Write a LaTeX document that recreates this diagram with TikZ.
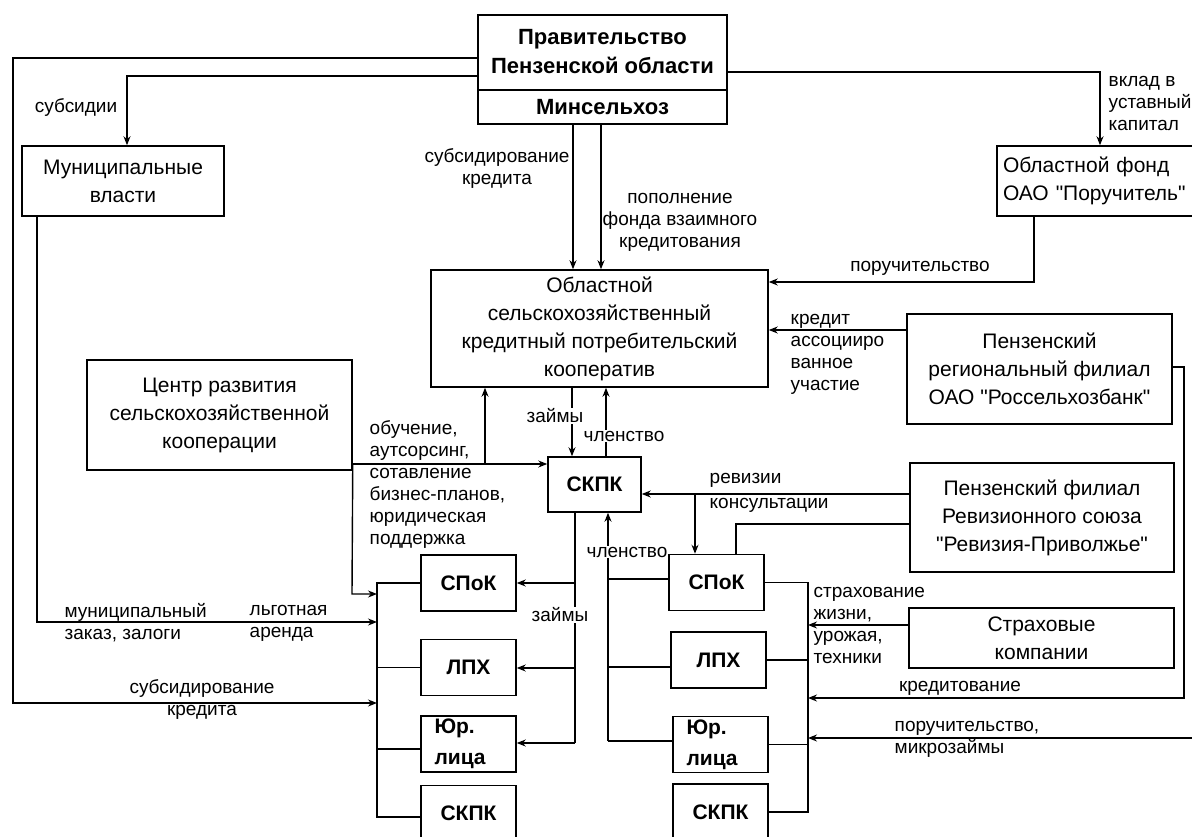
\documentclass[tikz,border=0pt]{standalone}
\usepackage{fontspec}
\setmainfont{Liberation Sans}[Ligatures=TeXOff]
\usetikzlibrary{positioning,arrows.meta}

\begin{document}
\begin{tikzpicture}[x=1pt, y=-1pt, line width=1.4pt,
	box/.style = {draw, line width=1.5pt, align=center, inner sep=0pt, font=\fontsize{21}{28}\selectfont},
	unit/.style = {draw, line width=1.5pt, minimum width=95pt, minimum height=56pt, inner sep=0pt, font=\bfseries\fontsize{21}{31}\selectfont},
	lbl/.style = {font=\fontsize{19}{22}\selectfont, inner sep=1pt},
	arr/.style = {-{Stealth[length=9pt,width=7pt]}}]
	\useasboundingbox (0,0) rectangle (1192,837);
	\clip (0,0) rectangle (1192,837);
	\node[box, minimum width=249pt, minimum height=109pt] (gov) at (602.5,69.5) {};
	\node[font=\bfseries\fontsize{22}{29}\selectfont, align=center] (govname) at (602.5,52) {Правительство\\Пензенской области};
	\node[font=\bfseries\fontsize{22}{29}\selectfont] (minsel) at (602.5,107) {Минсельхоз};
	\draw (gov.west |- 0,90) -- (gov.east |- 0,90);
	\node[box, minimum width=202pt, minimum height=70pt] (mun) at (123,181) {Муниципальные\\власти};
	\node[box, text width=185pt, inner xsep=6pt, minimum height=70pt, align=left] (fund) at (1095.5,181) {Областной фонд\\ОАО "Поручитель"};
	\node[box, minimum width=337pt, minimum height=117pt] (kpk) at (599.5,328.5) {Областной\\сельскохозяйственный\\кредитный потребительский\\кооператив};
	\node[box, minimum width=265pt, minimum height=110pt] (centre) at (219.5,415) {Центр развития\\сельскохозяйственной\\кооперации};
	\node[box, minimum width=265pt, minimum height=110pt] (bank) at (1039.5,369) {Пензенский\\региональный филиал\\ОАО "Россельхозбанк"};
	\node[box, minimum width=264pt, minimum height=109pt] (rev) at (1042,517.5) {Пензенский филиал\\Ревизионного союза\\"Ревизия-Приволжье"};
	\node[box, minimum width=265pt, minimum height=60pt] (insur) at (1041.5,638) {Страховые\\компании};
	\node[unit, minimum width=93pt, minimum height=55pt] (skpk) at (594.5,484.5) {СКПК};
	\node[unit] (lspok) at (468.5,583) {СПоК};
	\node[unit] (llph) [below=27pt of lspok] {ЛПХ};
	\node[unit, text width=68pt, align=left] (lyur) [below=19pt of llph] {Юр.\\лица};
	\node[unit] (lskpk) [below=12pt of lyur] {СКПК};
	\node[unit] (rspok) at (716.5,582.5) {СПоК};
	\node[unit] (rlph) [below=20pt of rspok, xshift=2pt] {ЛПХ};
	\node[unit, text width=68pt, align=left] (ryur) [below=27pt of rlph, xshift=2pt] {Юр.\\лица};
	\node[unit] (rskpk) [below=10pt of ryur] {СКПК};
	\coordinate (lbus) at (377,581);
	\coordinate (rbus) at (808,582);
	\coordinate (obr) at (485,464);
	\coordinate (revbr) at (695,494);
	\coordinate (gedge) at (1192,738);
	\draw[arr] (gov.west |- 0,58) -| (13,703) -- (lbus |- 0,703);
	\draw[arr] (gov.west |- 0,76) -| (mun.north -| 127,0);
	\draw[arr] (gov.east |- 0,72) -| (fund.north -| 1100,0);
	\draw[arr] (gov.south -| 573,0) -- (kpk.north -| 573,0);
	\draw[arr] (gov.south -| 601,0) -- (kpk.north -| 601,0);
	\draw[arr] (fund.south -| 1034,0) |- (kpk.east |- 0,282);
	\draw[arr] (bank.west |- 0,330) -- (kpk.east |- 0,330);
	\draw[arr] (bank.east |- 0,367) -| (1184,698) -- (rbus |- 0,698);
	\draw[arr] (kpk.south -| 572,0) -- (skpk.north -| 572,0);
	\draw[arr] (skpk.north -| 606,0) -- (kpk.south -| 606,0);
	\draw[arr] (centre.east |- obr) -- (skpk.west |- obr);
	\draw[arr] (obr) -- (kpk.south -| obr);
	\draw[arr] (centre.east |- obr) -- (352,594) -- (lbus |- 0,594);
	\draw[arr] (mun.south -| 37,0) -- (37,622) -- (lbus |- 0,622);
	\draw[arr] (rev.west |- revbr) -- (skpk.east |- revbr);
	\draw[arr] (revbr) -- (rspok.north -| revbr);
	\draw (rev.west |- 0,524) -| (rspok.north -| 736,0);
	\draw (lspok.west) -- (lspok.west -| lbus) -- (lbus |- 0,817) -- (lskpk.west |- 0,817);
	\draw (llph.west) -- (llph.west -| lbus);
	\draw (lyur.west |- 0,749) -- (lbus |- 0,749);
	\draw (skpk.south -| 575,0) -- (575,743);
	\draw[arr] (575,583) -- (lspok.east |- 0,583);
	\draw[arr] (575,668) -- (llph.east |- 0,668);
	\draw[arr] (575,743) -- (lyur.east |- 0,743);
	\draw[arr] (608,741) -- (skpk.south -| 608,0);
	\draw (608,579) -- (rspok.west |- 0,579);
	\draw (608,667) -- (rlph.west |- 0,667);
	\draw (608,741) -- (ryur.west |- 0,741);
	\draw (rspok.east) -- (rspok.east -| rbus) -- (rbus |- rskpk.east) -- (rskpk.east);
	\draw (rlph.east) -- (rlph.east -| rbus);
	\draw (ryur.east) -- (ryur.east -| rbus);
	\draw[arr] (insur.west |- 0,625) -- (rbus |- 0,625);
	\draw[arr] (gedge) -- (rbus |- gedge);
	\node[lbl] (l1) at (76,108) {субсидии};
	\node[lbl, align=left, anchor=west] (l2) at (1107,103) {вклад в\\уставный\\капитал};
	\node[lbl, align=center] (l3) at (497,169) {субсидирование\\кредита};
	\node[lbl, align=center] (l4) at (680,222) {пополнение\\фонда взаимного\\кредитования};
	\node[lbl] (l5) at (920,268) {поручительство};
	\node[lbl, align=left, anchor=west] (l6) at (789,354) {кредит\\ассоцииро\\ванное\\участие};
	\node[lbl, fill=white] (l7) at (555,416) {займы};
	\node[lbl, fill=white] (l8) at (624,436) {членство};
	\node[lbl, align=left, anchor=west] (l9) at (368,485) {обучение,\\аутсорсинг,\\сотавление\\бизнес-планов,\\юридическая\\поддержка};
	\node[lbl, align=left, anchor=west, font=\fontsize{19}{25}\selectfont] (l10) at (708,493) {ревизии\\консультации};
	\node[lbl, fill=white] (l11) at (627,552) {членство};
	\node[lbl, fill=white] (l12) at (560,615) {займы};
	\node[lbl, align=left, anchor=west] (l13) at (63,623) {муниципальный\\заказ, залоги};
	\node[lbl, align=left, anchor=west] (l14) at (248,623) {льготная\\аренда};
	\node[lbl, align=center] (l15) at (202,700) {субсидирование\\кредита};
	\node[lbl, align=left, anchor=west] (l16) at (812,625) {страхование\\жизни,\\урожая,\\техники};
	\node[lbl] (l17) at (960,688) {кредитование};
	\node[lbl, align=left, anchor=west] (l18) at (893,739) {поручительство,\\микрозаймы};
\end{tikzpicture}
\end{document}
